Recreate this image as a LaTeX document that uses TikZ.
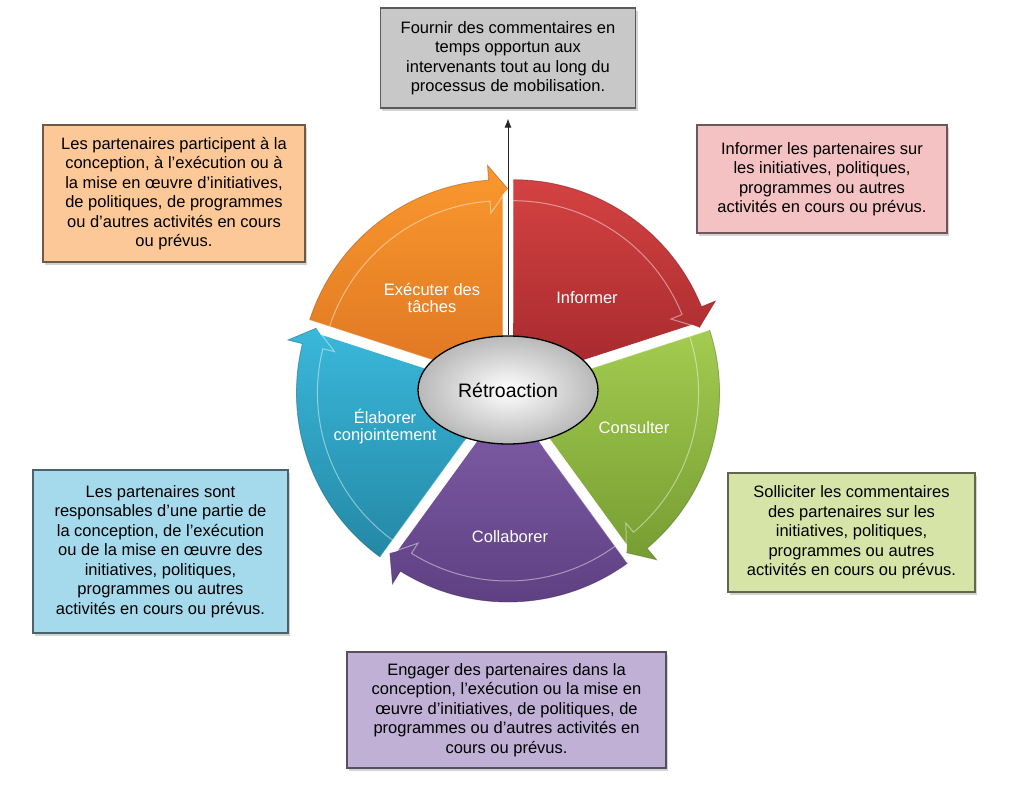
\documentclass[tikz,border=0pt]{standalone}
\usepackage{fontspec}
\setmainfont{Liberation Sans}
\usetikzlibrary{positioning, arrows.meta, shadows, shapes.geometric}
\definecolor{orgA}{RGB}{250,152,46}
\definecolor{orgB}{RGB}{222,118,34}
\definecolor{redA}{RGB}{212,66,66}
\definecolor{redB}{RGB}{163,40,44}
\definecolor{grnA}{RGB}{163,204,80}
\definecolor{grnB}{RGB}{118,157,50}
\definecolor{purA}{RGB}{128,94,168}
\definecolor{purB}{RGB}{92,62,128}
\definecolor{bluA}{RGB}{58,184,218}
\definecolor{bluB}{RGB}{36,136,166}
\definecolor{boxgray}{RGB}{200,200,200}
\definecolor{boxorange}{RGB}{252,200,152}
\definecolor{boxred}{RGB}{244,194,195}
\definecolor{boxgreen}{RGB}{215,228,168}
\definecolor{boxpurple}{RGB}{192,176,214}
\definecolor{boxblue}{RGB}{165,217,236}
\tikzset{
    infobox/.style={rectangle, fill=#1, draw=#1!45!black, line width=1.3pt, align=center,
        inner sep=0pt, font=\fontsize{16.5}{19.5}\selectfont,
        drop shadow={shadow xshift=2pt, shadow yshift=-3pt, opacity=0.35}},
    seglabel/.style={text=white, align=center, font=\fontsize{16.5}{17}\selectfont},
    hubnode/.style={ellipse, draw=black, line width=1.3pt, minimum width=180pt, minimum height=108pt,
        inner color=white, outer color=gray!55, font=\fontsize{19.5}{22}\selectfont}
}

\begin{document}
\begin{tikzpicture}[x=1pt, y=1pt]
    \useasboundingbox (-508,-396) rectangle (508,390);
    % segments of the wheel
    \foreach \s/\e/\m/\ca/\cb in {162/90/126/orgA/orgB, 90/18/54/redA/redB, 18/-54/-18/grnA/grnB,
            -54/-126/-90/purA/purB, -126/-198/-162/bluA/bluB}{
        \begin{scope}[shift={(\m:9)}]
            \shade[top color=\ca, bottom color=\cb] (0,0) -- (\s:203)
                arc[start angle=\s, end angle=\e+4, radius=203] -- ({\e+4}:218)
                -- ({\e-1.5}:194) -- (\e:188) -- cycle;
            \draw[white, opacity=0.45, line width=1pt] (\s:182)
                arc[start angle=\s, end angle=\e+4, radius=182] -- ({\e+4}:170) -- ({\e-1.5}:194);
            \draw[white, opacity=0.3, line width=1pt] (\s:60) -- (\s:203);
            \draw[\cb!70!black, opacity=0.5, line width=0.8pt] (\s:203)
                arc[start angle=\s, end angle=\e+4, radius=203] -- ({\e+4}:218) -- ({\e-1.5}:194);
        \end{scope}
    }
    \node[seglabel] (exec) at (-76,92) {Exécuter des\\tâches};
    \node[seglabel] (inform) at (79,92) {Informer};
    \node[seglabel] (consult) at (126,-38) {Consulter};
    \node[seglabel] (collab) at (2,-147) {Collaborer};
    \node[seglabel] (elab) at (-123,-37) {Élaborer\\conjointement};

    % text boxes
    \node[infobox=boxgray, minimum width=255pt, minimum height=100pt] (fournir) at (0,332)
        {Fournir des commentaires en\\temps opportun aux\\intervenants tout au long du\\processus de mobilisation.};
    \node[infobox=boxorange, minimum width=262pt, minimum height=137pt] (partic) at (-334,196.5)
        {Les partenaires participent à la\\conception, à l’exécution ou à\\la mise en œuvre d’initiatives,\\de politiques, de programmes\\ou d’autres activités en cours\\ou prévus.};
    \node[infobox=boxred, minimum width=250pt, minimum height=108pt] (informbox) at (314,211)
        {Informer les partenaires sur\\les initiatives, politiques,\\programmes ou autres\\activités en cours ou prévus.};
    \node[infobox=boxgreen, minimum width=247pt, minimum height=119pt] (sollic) at (343.5,-142.5)
        {Solliciter les commentaires\\des partenaires sur les\\initiatives, politiques,\\programmes ou autres\\activités en cours ou prévus.};
    \node[infobox=boxpurple, minimum width=319pt, minimum height=116pt] (engager) at (-1.5,-320)
        {Engager des partenaires dans la\\conception, l’exécution ou la mise en\\œuvre d’initiatives, de politiques, de\\programmes ou d’autres activités en\\cours ou prévus.};
    \node[infobox=boxblue, minimum width=255pt, minimum height=163pt] (respons) at (-347.5,-161.5)
        {Les partenaires sont\\responsables d’une partie de\\la conception, de l’exécution\\ou de la mise en œuvre des\\initiatives, politiques,\\programmes ou autres\\activités en cours ou prévus.};

    \node[hubnode] (retro) at (0,0) {Rétroaction};
    \draw[-{Latex[length=9pt,width=7pt]}, line width=0.8pt, black!85, shorten >=10pt] (retro.north) -- (fournir.south);
\end{tikzpicture}
\end{document}
